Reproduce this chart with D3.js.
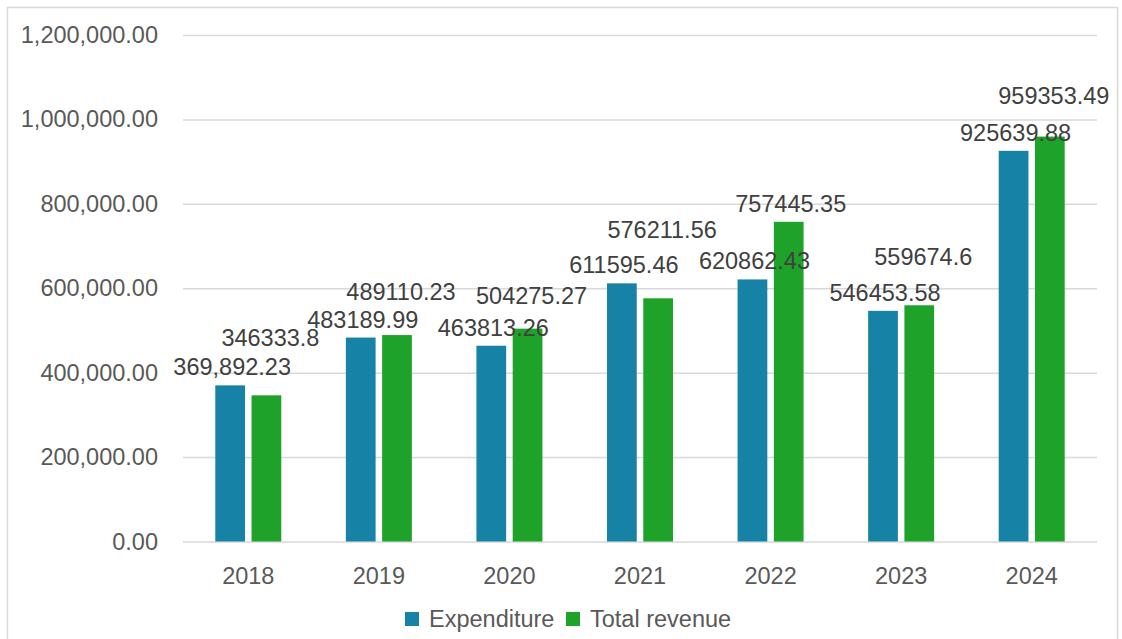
<!DOCTYPE html>
<html>
<head>
<meta charset="utf-8">
<script src="https://cdn.jsdelivr.net/npm/d3@7"></script>
<style>
  body { margin: 0; background: #fff; }
  text { font-family: 'Liberation Sans', Arial, sans-serif; }
</style>
</head>
<body>
<div id="chart"></div>
<script>
const years = ['2018', '2019', '2020', '2021', '2022', '2023', '2024']
const expenditure = [369892.23, 483189.99, 463813.26, 611595.46, 620862.43, 546453.58, 925639.88]
const revenue = [346333.8, 489110.23, 504275.27, 576211.56, 757445.35, 559674.6, 959353.49]
const yTicks = [0, 200000, 400000, 600000, 800000, 1000000, 1200000]
const seriesNames = ['Expenditure', 'Total revenue']
const colors = ['#1582a6', '#1fa22a']
// label nudges (labels were dragged around in the original)
const revenueLabelLift = [39, 25, 15, 50, 0, 30, 23]

const width = 1122
const height = 639
const margin = { top: 35, left: 183, right: 25, bottom: 97 }

const svg = d3
  .select('#chart')
  .append('svg')
  .attr('width', width)
  .attr('height', height)

// chart border
svg
  .append('rect')
  .attr('x', 7.5)
  .attr('y', 7.5)
  .attr('width', 1110)
  .attr('height', 640)
  .attr('fill', 'none')
  .attr('stroke', '#d9d9d9')
  .attr('stroke-width', 1.5)

const x = d3
  .scaleBand()
  .domain(years)
  .range([margin.left, width - margin.right])

const xInner = d3
  .scaleBand()
  .domain(seriesNames)
  .range([x.bandwidth() / 2 - 33, x.bandwidth() / 2 + 33])
  .paddingInner(0.18)

const y = d3
  .scaleLinear()
  .domain([0, 1200000])
  .range([height - margin.bottom - 0.5, margin.top])

// gridlines + y labels
const yAxis = svg
  .append('g')
  .attr('transform', `translate(${margin.left},0)`)
  .call(
    d3
      .axisLeft(y)
      .tickValues(yTicks)
      .tickSize(-(width - margin.left - margin.right))
      .tickPadding(25)
      .tickFormat(d3.format(',.2f'))
  )
yAxis.select('.domain').remove()
yAxis
  .selectAll('line')
  .attr('stroke', '#d9d9d9')
  .attr('stroke-width', 1.5)
yAxis
  .selectAll('text')
  .attr('fill', '#595959')
  .style('font-size', '23.5px')

// x labels
const xAxis = svg
  .append('g')
  .attr('transform', `translate(0,${y(0)})`)
  .call(d3.axisBottom(x).tickSize(0).tickPadding(26))
xAxis.select('.domain').remove()
xAxis
  .selectAll('text')
  .attr('fill', '#595959')
  .style('font-size', '23.5px')

const rows = years.map((year, i) => ({
  year,
  values: [
    { key: seriesNames[0], value: expenditure[i], text: i === 0 ? d3.format(',.2f')(expenditure[i]) : String(expenditure[i]), lift: 0 },
    { key: seriesNames[1], value: revenue[i], text: String(revenue[i]), lift: revenueLabelLift[i] }
  ]
}))

const colorScale = d3.scaleOrdinal().domain(seriesNames).range(colors)

const groups = svg
  .selectAll('.year')
  .data(rows)
  .enter()
  .append('g')
  .attr('class', 'year')
  .attr('transform', d => `translate(${x(d.year)},0)`)

groups
  .selectAll('rect')
  .data(d => d.values)
  .enter()
  .append('rect')
  .attr('x', d => xInner(d.key))
  .attr('width', xInner.bandwidth())
  .attr('y', d => y(d.value))
  .attr('height', d => y(0) - y(d.value))
  .attr('fill', d => colorScale(d.key))

groups
  .selectAll('.label')
  .data(d => d.values)
  .enter()
  .append('text')
  .attr('class', 'label')
  .attr('x', d => xInner(d.key) + xInner.bandwidth() / 2 + (d.lift ? 4 : 2))
  .attr('y', d => y(d.value) - 10 - d.lift)
  .attr('text-anchor', 'middle')
  .attr('fill', '#404040')
  .style('font-size', '23.5px')
  .text(d => d.text)

// Legend
const legend = svg.append('g').attr('transform', 'translate(405, 619)')
const legendX = [0, 161]

legend
  .selectAll('.legend')
  .data(seriesNames)
  .enter()
  .append('g')
  .attr('class', 'legend')
  .attr('transform', (d, i) => `translate(${legendX[i]},0)`)
  .each(function(d) {
    const g = d3.select(this)
    g.append('rect')
      .attr('x', 0)
      .attr('y', -7)
      .attr('width', 14)
      .attr('height', 14)
      .attr('fill', colorScale(d))
    g.append('text')
      .text(d)
      .attr('x', 24)
      .attr('dy', '0.35em')
      .attr('fill', '#595959')
      .style('font-size', '23.5px')
  })
</script>
</body>
</html>
